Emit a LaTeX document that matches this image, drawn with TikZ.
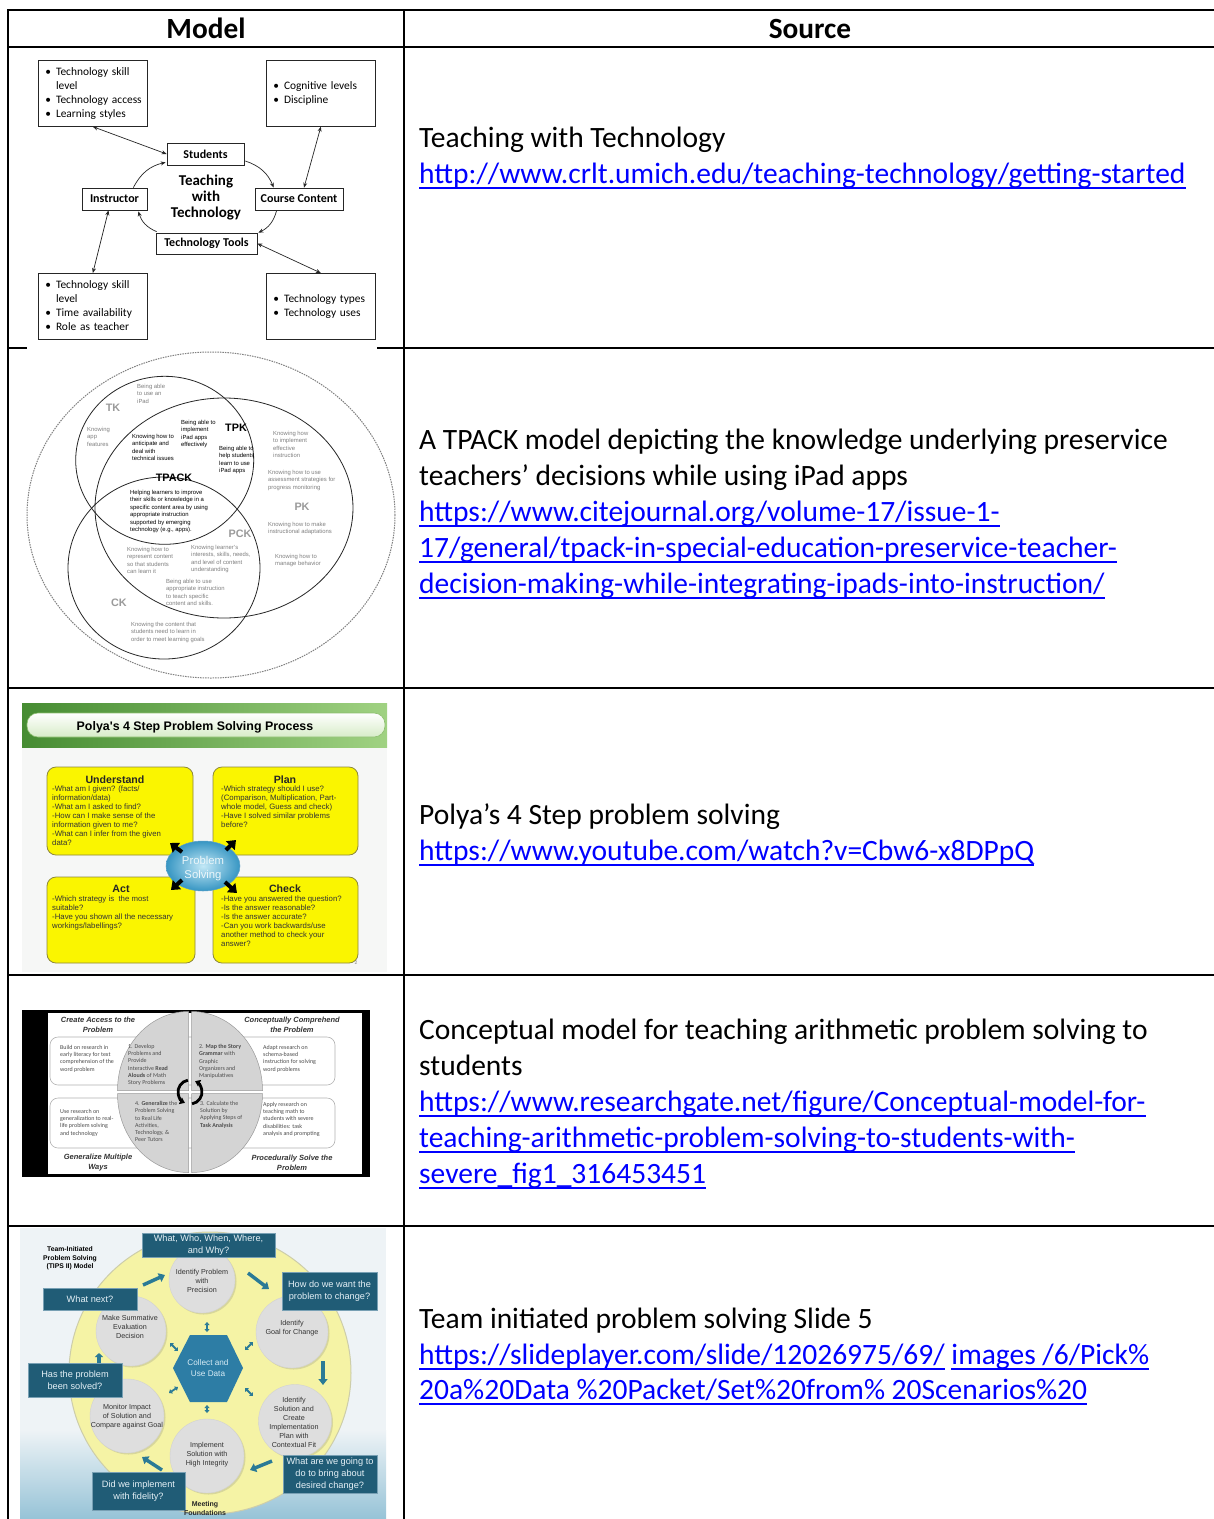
\documentclass[tikz,border=0pt]{standalone}
\usepackage{fontspec}
\setmainfont{Carlito}
\newfontfamily\arialf{Liberation Sans}
\usetikzlibrary{arrows.meta,calc,shadows,shapes.geometric}

\definecolor{linkblue}{RGB}{0,0,255}
\definecolor{tpgray}{RGB}{128,128,128}
\definecolor{polyayellow}{RGB}{250,245,0}
\definecolor{polyaedge}{RGB}{140,135,60}
\definecolor{polyabg}{RGB}{246,247,246}
\definecolor{polyagreenA}{RGB}{70,140,50}
\definecolor{polyagreenB}{RGB}{160,210,130}
\definecolor{pilledge}{RGB}{140,190,110}
\definecolor{pillbot}{RGB}{215,236,200}
\definecolor{psinner}{RGB}{195,232,246}
\definecolor{psouter}{RGB}{55,150,195}
\definecolor{psedge}{RGB}{90,160,200}
\definecolor{pstext}{RGB}{235,246,250}
\definecolor{tipsteal}{RGB}{32,92,118}
\definecolor{tipsarrow}{RGB}{42,122,150}
\definecolor{tipshex}{RGB}{45,125,165}
\definecolor{hextext}{RGB}{215,236,245}
\definecolor{tipsyellow}{RGB}{245,243,165}
\definecolor{tipsyedge}{RGB}{205,205,170}
\definecolor{tipscircle}{RGB}{222,222,222}
\definecolor{tipsbg}{RGB}{238,243,246}
\definecolor{tipsbottom}{RGB}{150,195,215}
\definecolor{tbxedge}{RGB}{120,160,180}
\definecolor{tbxtext}{RGB}{228,240,246}
\definecolor{quadgray}{RGB}{212,212,212}

% underlined hyperlink text
\newsavebox\lkbox
\newcommand\lk[1]{\sbox\lkbox{\color{linkblue}#1}\textcolor{linkblue}{\rlap{\rule[-5.5pt]{\wd\lkbox}{1.6pt}}}\usebox\lkbox}

\tikzset{
  gridline/.style={line width=2pt, black},
  hdr/.style={font=\fontsize{29.3}{36}\selectfont\bfseries, anchor=base, inner sep=0},
  src/.style={font=\fontsize{29.5}{36}\selectfont, anchor=base west, inner sep=0},
  % teaching with technology
  r1box/.style={draw=black!85, line width=0.7pt, fill=white, inner sep=0},
  r1list/.style={r1box, anchor=north west, minimum height=66pt, text width=95pt, inner xsep=7pt, align=left, font=\fontsize{11.4}{14}\selectfont},
  r1lbl/.style={r1box, font=\fontsize{12}{14}\selectfont\bfseries},
  r1both/.style={line width=0.7pt, black!85, {Stealth[length=5pt,width=4pt]}-{Stealth[length=5pt,width=4pt]}},
  r1one/.style={line width=0.7pt, black!85, -{Stealth[length=5pt,width=4pt]}},
  % TPACK
  tp/.style={anchor=north west, inner sep=0, align=left, font=\arialf\fontsize{5.9}{7.5}\selectfont, text=tpgray},
  tpb/.style={tp, text=black},
  tplbl/.style={inner sep=0, font=\arialf\bfseries\fontsize{10.8}{12}\selectfont, text=tpgray!80},
  % Polya
  pbox/.style={draw=polyaedge, line width=0.8pt, fill=polyayellow, rounded corners=9pt, inner sep=0},
  phead/.style={inner sep=0, font=\arialf\bfseries\fontsize{10.6}{12}\selectfont, text=black!85},
  pbody/.style={anchor=north west, inner sep=0, align=left, font=\arialf\fontsize{7.8}{9}\selectfont, text=black!80},
  parr/.style={line width=4pt, black, -{Triangle[length=8pt,width=12pt]}},
  % conceptual model
  qhead/.style={inner sep=0, align=center, font=\arialf\bfseries\itshape\fontsize{7.5}{10}\selectfont, text=black!80},
  qt/.style={anchor=north west, inner sep=0, align=left, font=\fontsize{6}{7.3}\selectfont, text=black!70},
  qquad/.style={fill=quadgray, draw=gray!80, line width=0.5pt},
  qbox/.style={draw=gray!60, fill=white, rounded corners=8pt, line width=0.6pt},
  % TIPS
  tipsc/.style={circle, fill=tipscircle, draw=gray!35, line width=0.4pt, inner sep=0,
                drop shadow={opacity=0.25, shadow xshift=1.5pt, shadow yshift=-1.5pt}},
  tipst/.style={inner sep=0, align=center, font=\arialf\fontsize{7.2}{9}\selectfont, text=black!80},
  tbx/.style={fill=tipsteal, draw=tbxedge, line width=0.5pt,
              text=tbxtext, font=\arialf\fontsize{9.2}{12}\selectfont,
              align=center, inner sep=0},
  tarr/.style={line width=3.5pt, tipsarrow, -{Triangle[length=6pt,width=9pt]}},
  darr/.style={line width=1.8pt, tipsarrow, {Triangle[length=3pt,width=5pt]}-{Triangle[length=3pt,width=5pt]}},
}

\begin{document}
\begin{tikzpicture}[x=1pt,y=-1pt]
\useasboundingbox (0,0) rectangle (1214,1519);
\fill[white] (0,0) rectangle (1214,1519);

% ---------------- table rules ----------------
\draw[gridline] (8,10) -- (1214,10);
\foreach \yy in {47,348,688,975,1226} \draw[gridline] (8,\yy) -- (1214,\yy);
\draw[gridline] (8,9) -- (8,1519);
\draw[line width=1.5pt] (404,10) -- (404,1519);

\node[hdr] (hmodel) at (206,38) {Model};
\node[hdr] (hsource) at (810,38) {Source};

% ---------------- sources column ----------------
\node[src] (s1a) at (419,147.5) {Teaching with Technology};
\node[src] (s1b) at (419,183.5) {\lk{http://www.crlt.umich.edu/teaching-technology/getting-started}};

\node[src] (s2a) at (419,449.5) {A TPACK model depicting the knowledge underlying preservice};
\node[src] (s2b) at (419,485.5) {teachers’ decisions while using iPad apps};
\node[src] (s2c) at (419,521.5) {\lk{https://www.citejournal.org/volume-17/issue-1-}};
\node[src] (s2d) at (419,557.5) {\lk{17/general/tpack-in-special-education-preservice-teacher-}};
\node[src] (s2e) at (419,593.5) {\lk{decision-making-while-integrating-ipads-into-instruction/}};

\node[src] (s3a) at (419,824.5) {Polya’s 4 Step problem solving};
\node[src] (s3b) at (419,860.5) {\lk{https://www.youtube.com/watch?v=Cbw6-x8DPpQ}};

\node[src] (s4a) at (419,1039.5) {Conceptual model for teaching arithmetic problem solving to};
\node[src] (s4b) at (419,1075.5) {students};
\node[src] (s4c) at (419,1111.5) {\lk{https://www.researchgate.net/figure/Conceptual-model-for-}};
\node[src] (s4d) at (419,1147.5) {\lk{teaching-arithmetic-problem-solving-to-students-with-}};
\node[src] (s4e) at (419,1183.5) {\lk{severe\_fig1\_316453451}};

\node[src] (s5a) at (419,1328.5) {Team initiated problem solving Slide 5};
\node[src] (s5b) at (419,1364.5) {\lk{https://slideplayer.com/slide/12026975/69/} \lk{images /6/Pick\%}};
\node[src] (s5c) at (419,1399.5) {\lk{20a\%20Data \%20Packet/Set\%20from\% 20Scenarios\%20}};

% ---------------- Teaching with Technology ----------------
\node[r1list] (tl) at (38,60) {\begin{tabular}{@{}l@{\hspace{5pt}}l@{}}•&Technology skill\\&level\\•&Technology access\\•&Learning styles\end{tabular}};
\node[r1list] (tr) at (266,60) {\begin{tabular}{@{}l@{\hspace{5pt}}l@{}}•&Cognitive levels\\•&Discipline\end{tabular}};
\node[r1list] (bl) at (38,273) {\begin{tabular}{@{}l@{\hspace{5pt}}l@{}}•&Technology skill\\&level\\•&Time availability\\•&Role as teacher\end{tabular}};
\node[r1list] (br) at (266,273) {\begin{tabular}{@{}l@{\hspace{5pt}}l@{}}•&Technology types\\•&Technology uses\end{tabular}};

\node[r1lbl, minimum width=77pt, minimum height=22pt] (st) at (205.5,154) {Students};
\node[r1lbl, minimum width=65pt, minimum height=22pt] (ins) at (114.5,199) {Instructor};
\node[r1lbl, minimum width=88pt, minimum height=22pt] (cc) at (299,199) {Course Content};
\node[r1lbl, minimum width=101pt, minimum height=21pt] (tt) at (206.5,243.5) {Technology Tools};
\node[font=\fontsize{15}{16}\selectfont\bfseries, align=center, inner sep=0] (twt) at (206,198) {Teaching\\with\\Technology};

\draw[r1both] (tl.south) -- (st.west);
\draw[r1both] (tr.south) -- ($(cc.north)+(5,0)$);
\draw[r1both] ($(ins.south)+(-6,0)$) -- (bl.north);
\draw[r1both] (tt.east) -- (br.north);

\draw[r1one] ($(st.east)+(1,7)$) to[bend left=25] ($(cc.north west)+(19,0)$);
\draw[r1one] ($(cc.south west)+(22,0)$) to[bend left=25] ($(tt.north east)+(1,0)$);
\draw[r1one] ($(tt.north west)+(1,-1)$) to[bend left=25] ($(ins.south east)+(-9,1)$);
\draw[r1one] ($(ins.north east)+(-14,0)$) to[bend left=25] ($(st.south west)+(-1,-3)$);

% ---------------- TPACK ----------------
\fill[white] (27,345) rectangle (377,686);
\draw[tpgray, line width=1pt, dash pattern=on 1.5pt off 1pt] (211,515) ellipse[x radius=184pt, y radius=163pt];
\draw[black!85, line width=0.8pt] (164.7,460.3) ellipse[x radius=89pt, y radius=84pt];
\draw[black!85, line width=0.8pt] (224,508) ellipse[x radius=129pt, y radius=110pt];
\draw[black!85, line width=0.8pt] (164,568) ellipse[x radius=96pt, y radius=91pt];

\node[tplbl] (ltk) at (113,408) {TK};
\node[tplbl, text=black] (ltpk) at (236,428) {TPK};
\node[tplbl, text=black] (ltpack) at (174,478) {TPACK};
\node[tplbl] (lpk) at (302,507) {PK};
\node[tplbl] (lpck) at (240,534) {PCK};
\node[tplbl] (lck) at (119,603) {CK};

\node[tp] (tp1) at (137,384) {Being able\\to use an\\iPad};
\node[tp] (tp2) at (87,427) {Knowing\\app\\features};
\node[tpb] (tp3) at (132,434) {Knowing how to\\anticipate and\\deal with\\technical issues};
\node[tpb] (tp4) at (181,420) {Being able to\\implement\\iPad apps\\effectively};
\node[tpb] (tp5) at (219,446) {Being able to\\help students\\learn to use\\iPad apps};
\node[tp] (tp6) at (273,431) {Knowing how\\to implement\\effective\\instruction};
\node[tp] (tp7) at (268,470) {Knowing how to use\\assessment strategies for\\progress monitoring};
\node[tp] (tp8) at (268,522) {Knowing how to make\\instructional adaptations};
\node[tp] (tp9) at (275,554) {Knowing how to\\manage behavior};
\node[tpb] (tp10) at (130,490) {Helping learners to improve\\their skills or knowledge in a\\specific content area by using\\appropriate instruction\\supported by emerging\\technology (e.g., apps).};
\node[tp] (tp11) at (127,547) {Knowing how to\\represent content\\so that students\\can learn it};
\node[tp] (tp12) at (191,545) {Knowing learner’s\\interests, skills, needs,\\and level of content\\understanding};
\node[tp] (tp13) at (166,579) {Being able to use\\appropriate instruction\\to teach specific\\content and skills.};
\node[tp] (tp14) at (131,622) {Knowing the content that\\students need to learn in\\order to meet learning goals};

% ---------------- Polya ----------------
\fill[polyabg] (22,703) rectangle (387,972);
\shade[left color=polyagreenA, right color=polyagreenB] (22,703) rectangle (387,747);
\draw[rounded corners=11pt, draw=pilledge, line width=0.6pt,
      top color=white, bottom color=pillbot] (27,713) rectangle (385,737);
\node[inner sep=0, font=\arialf\bfseries\fontsize{12.4}{14}\selectfont] (ptitle) at (195,727) {Polya's 4 Step Problem Solving Process};

\node[pbox, minimum width=146pt, minimum height=88pt] (pu) at (120,811) {};
\node[pbox, minimum width=145pt, minimum height=88pt] (pp) at (285.5,811) {};
\node[pbox, minimum width=148pt, minimum height=86pt] (pa) at (121,920) {};
\node[pbox, minimum width=145pt, minimum height=86pt] (pc) at (285.5,920) {};

\node[phead] (puh) at (115,780) {Understand};
\node[phead] (pph) at (285,780) {Plan};
\node[phead] (pah) at (121,889) {Act};
\node[phead] (pch) at (285,889) {Check};

\node[pbody] (pub) at (52,786) {-What am I given? (facts/\\information/data)\\-What am I asked to find?\\-How can I make sense of the\\information given to me?\\-What can I infer from the given\\data?};
\node[pbody] (ppb) at (221,786) {-Which strategy should I use?\\(Comparison, Multiplication, Part-\\whole model, Guess and check)\\-Have I solved similar problems\\before?};
\node[pbody] (pab) at (52,896) {-Which strategy is\ \ the most\\suitable?\\-Have you shown all the necessary\\workings/labellings?};
\node[pbody] (pcb) at (221,896) {-Have you answered the question?\\-Is the answer reasonable?\\-Is the answer accurate?\\-Can you work backwards/use\\another method to check your\\answer?};

\node[ellipse, minimum width=74pt, minimum height=50pt, inner sep=0, shading=radial,
      inner color=psinner, outer color=psouter, draw=psedge, line width=0.5pt] (ps) at (203,866) {};
\node[inner sep=0, align=center, font=\arialf\fontsize{11.3}{14}\selectfont, text=pstext] (pst) at (203,869) {Problem\\Solving};

\draw[parr] ($(ps)+(-21,-14)$) -- ($(ps)+(-33,-23)$);
\draw[parr] ($(ps)+(23,-16)$) -- ($(ps)+(33,-26)$);
\draw[parr] ($(ps)+(-21,14)$) -- ($(ps)+(-32,24)$);
\draw[parr] ($(ps)+(22,16)$) -- ($(ps)+(34,27)$);
\node[inner sep=0, font=\arialf\fontsize{5}{6}\selectfont, text=gray] (pnum) at (356,963) {2};

% ---------------- conceptual model ----------------
\fill[black] (22,1010) rectangle (370,1177);
\fill[white] (48,1013) rectangle (362,1174);
\draw[qbox] (50,1037) rectangle (335,1085);
\draw[qbox] (50,1098) rectangle (335,1148);

\draw[qquad] (191.5,1090.5) -- ++(71,0) arc[start angle=0,end angle=90,x radius=71pt,y radius=79pt] -- cycle;
\draw[qquad] (188.5,1090.5) -- ++(0,-79) arc[start angle=90,end angle=180,x radius=71pt,y radius=79pt] -- cycle;
\draw[qquad] (188.5,1093.5) -- ++(-71,0) arc[start angle=180,end angle=270,x radius=71pt,y radius=79pt] -- cycle;
\draw[qquad] (191.5,1093.5) -- ++(0,79) arc[start angle=270,end angle=360,x radius=71pt,y radius=79pt] -- cycle;

\coordinate (qc) at (190,1092);
\draw[line width=2.8pt, -{Triangle[length=5pt,width=7pt]}] ([shift={(100:12pt)}]qc) arc[start angle=100, end angle=245, radius=12pt];
\draw[line width=2.8pt, -{Triangle[length=5pt,width=7pt]}] ([shift={(280:12pt)}]qc) arc[start angle=280, end angle=425, radius=12pt];

\node[qhead] (qh1) at (98,1025) {Create Access to the\\Problem};
\node[qhead] (qh2) at (292,1025) {Conceptually Comprehend\\the Problem};
\node[qhead] (qh3) at (98,1163) {Generalize Multiple\\Ways};
\node[qhead] (qh4) at (292,1163) {Procedurally Solve the\\Problem};

\node[qt] (q1) at (128,1044) {1. Develop\\Problems and\\Provide\\Interactive \textbf{Read}\\\textbf{Alouds} of Math\\Story Problems};
\node[qt] (q2) at (199,1044) {2. \textbf{Map the Story}\\\textbf{Grammar} with\\Graphic\\Organizers and\\Manipulatives};
\node[qt] (q4) at (135,1101) {4. \textbf{Generalize} the\\Problem Solving\\to Real Life\\Activities,\\Technology, \&\\Peer Tutors};
\node[qt] (q3) at (200,1101) {3. Calculate the\\Solution by\\Applying Steps of\\\textbf{Task Analysis}};
\node[qt] (qa) at (60,1045) {Build on research in\\early literacy for text\\comprehension of the\\word problem};
\node[qt] (qb) at (263,1045) {Adapt research on\\schema-based\\instruction for solving\\word problems};
\node[qt] (qd) at (60,1109) {Use research on\\generalization to real-\\life problem solving\\and technology};
\node[qt] (qe) at (263,1102) {Apply research on\\teaching math to\\students with severe\\disabilities: task\\analysis and prompting};

% ---------------- TIPS II ----------------
\begin{scope}
\clip (20,1228) rectangle (386,1519);
\fill[tipsbg] (20,1228) rectangle (386,1519);
\shade[top color=tipsbg, bottom color=tipsbottom] (20,1430) rectangle (386,1519);
\draw[fill=tipsyellow, draw=tipsyedge, line width=1pt] (210,1373) circle[radius=141pt];

\node[tipsc, minimum size=66pt] (c1) at (202,1280) {};
\node[tipsc, minimum size=72pt] (c2) at (292,1332) {};
\node[tipsc, minimum size=73pt] (c3) at (295,1421) {};
\node[tipsc, minimum size=74pt] (c4) at (207,1456) {};
\node[tipsc, minimum size=74pt] (c5) at (127,1416) {};
\node[tipsc, minimum size=70pt] (c6) at (131,1331) {};
\node[tipst] (c1t) at (202,1281) {Identify Problem\\with\\Precision};
\node[tipst] (c2t) at (292,1328) {Identify\\Goal for Change};
\node[tipst] (c3t) at (294,1422) {Identify\\Solution and\\Create\\Implementation\\Plan with\\Contextual Fit};
\node[tipst] (c4t) at (207,1455) {Implement\\Solution with\\High Integrity};
\node[tipst] (c5t) at (127,1417) {Monitor Impact\\of Solution and\\Compare against Goal};
\node[tipst] (c6t) at (130,1327) {Make Summative\\Evaluation\\Decision};

\fill[tipshex] (173,1368) -- (190,1335) -- (227,1335) -- (243,1368) -- (227,1402) -- (190,1402) -- cycle;
\node[inner sep=0, align=center, font=\arialf\fontsize{8.2}{11}\selectfont, text=hextext] (hx) at (208,1368) {Collect and\\Use Data};

\draw[darr] ($(hx)+(-1,-46)$) -- ($(hx)+(-1,-36)$);
\draw[darr] ($(hx)+(-38,-25)$) -- ($(hx)+(-30,-17)$);
\draw[darr] ($(hx)+(37,-18)$) -- ($(hx)+(45,-26)$);
\draw[darr] ($(hx)+(-39,25)$) -- ($(hx)+(-30,19)$);
\draw[darr] ($(hx)+(37,20)$) -- ($(hx)+(45,28)$);
\draw[darr] ($(hx)+(-1,37)$) -- ($(hx)+(-1,45)$);

\node[tbx, minimum width=133pt, minimum height=24pt] (b1) at (208.5,1245) {What, Who, When, Where,\\and Why?};
\node[tbx, minimum width=95pt, minimum height=38pt] (b2) at (329.5,1291) {How do we want the\\problem to change?};
\node[tbx, minimum width=94pt, minimum height=22pt] (b3) at (90,1299) {What next?};
\node[tbx, minimum width=94pt, minimum height=34pt] (b4) at (75,1380) {Has the problem\\been solved?};
\node[tbx, minimum width=94pt, minimum height=38pt] (b5) at (330,1474) {What are we going to\\do to bring about\\desired change?};
\node[tbx, minimum width=93pt, minimum height=38pt] (b6) at (138.5,1491) {Did we implement\\with fidelity?};

\coordinate (a1s) at (143,1285); \coordinate (a1e) at (165,1275);
\coordinate (a2s) at (248,1273); \coordinate (a2e) at (269,1289);
\coordinate (a3s) at (323,1361); \coordinate (a3e) at (323,1385);
\coordinate (a4s) at (272,1461); \coordinate (a4e) at (250,1470);
\coordinate (a5s) at (162,1470); \coordinate (a5e) at (142,1457);
\coordinate (a6s) at (99,1363);  \coordinate (a6e) at (99,1353);
\draw[tarr] (a1s) -- (a1e);
\draw[tarr] (a2s) -- (a2e);
\draw[tarr] (a3s) -- (a3e);
\draw[tarr] (a4s) -- (a4e);
\draw[tarr] (a5s) -- (a5e);
\draw[tarr, -{Triangle[length=4pt,width=8pt]}] (a6s) -- (a6e);

\node[inner sep=0, align=center, font=\arialf\bfseries\fontsize{6.8}{8.5}\selectfont] (tips) at (70,1258.5) {Team-Initiated\\Problem Solving\\(TIPS II) Model};
\node[inner sep=0, align=center, font=\arialf\bfseries\fontsize{7}{9}\selectfont, text=black!85] (meet) at (205,1508) {Meeting\\Foundations};
\end{scope}

\end{tikzpicture}
\end{document}
